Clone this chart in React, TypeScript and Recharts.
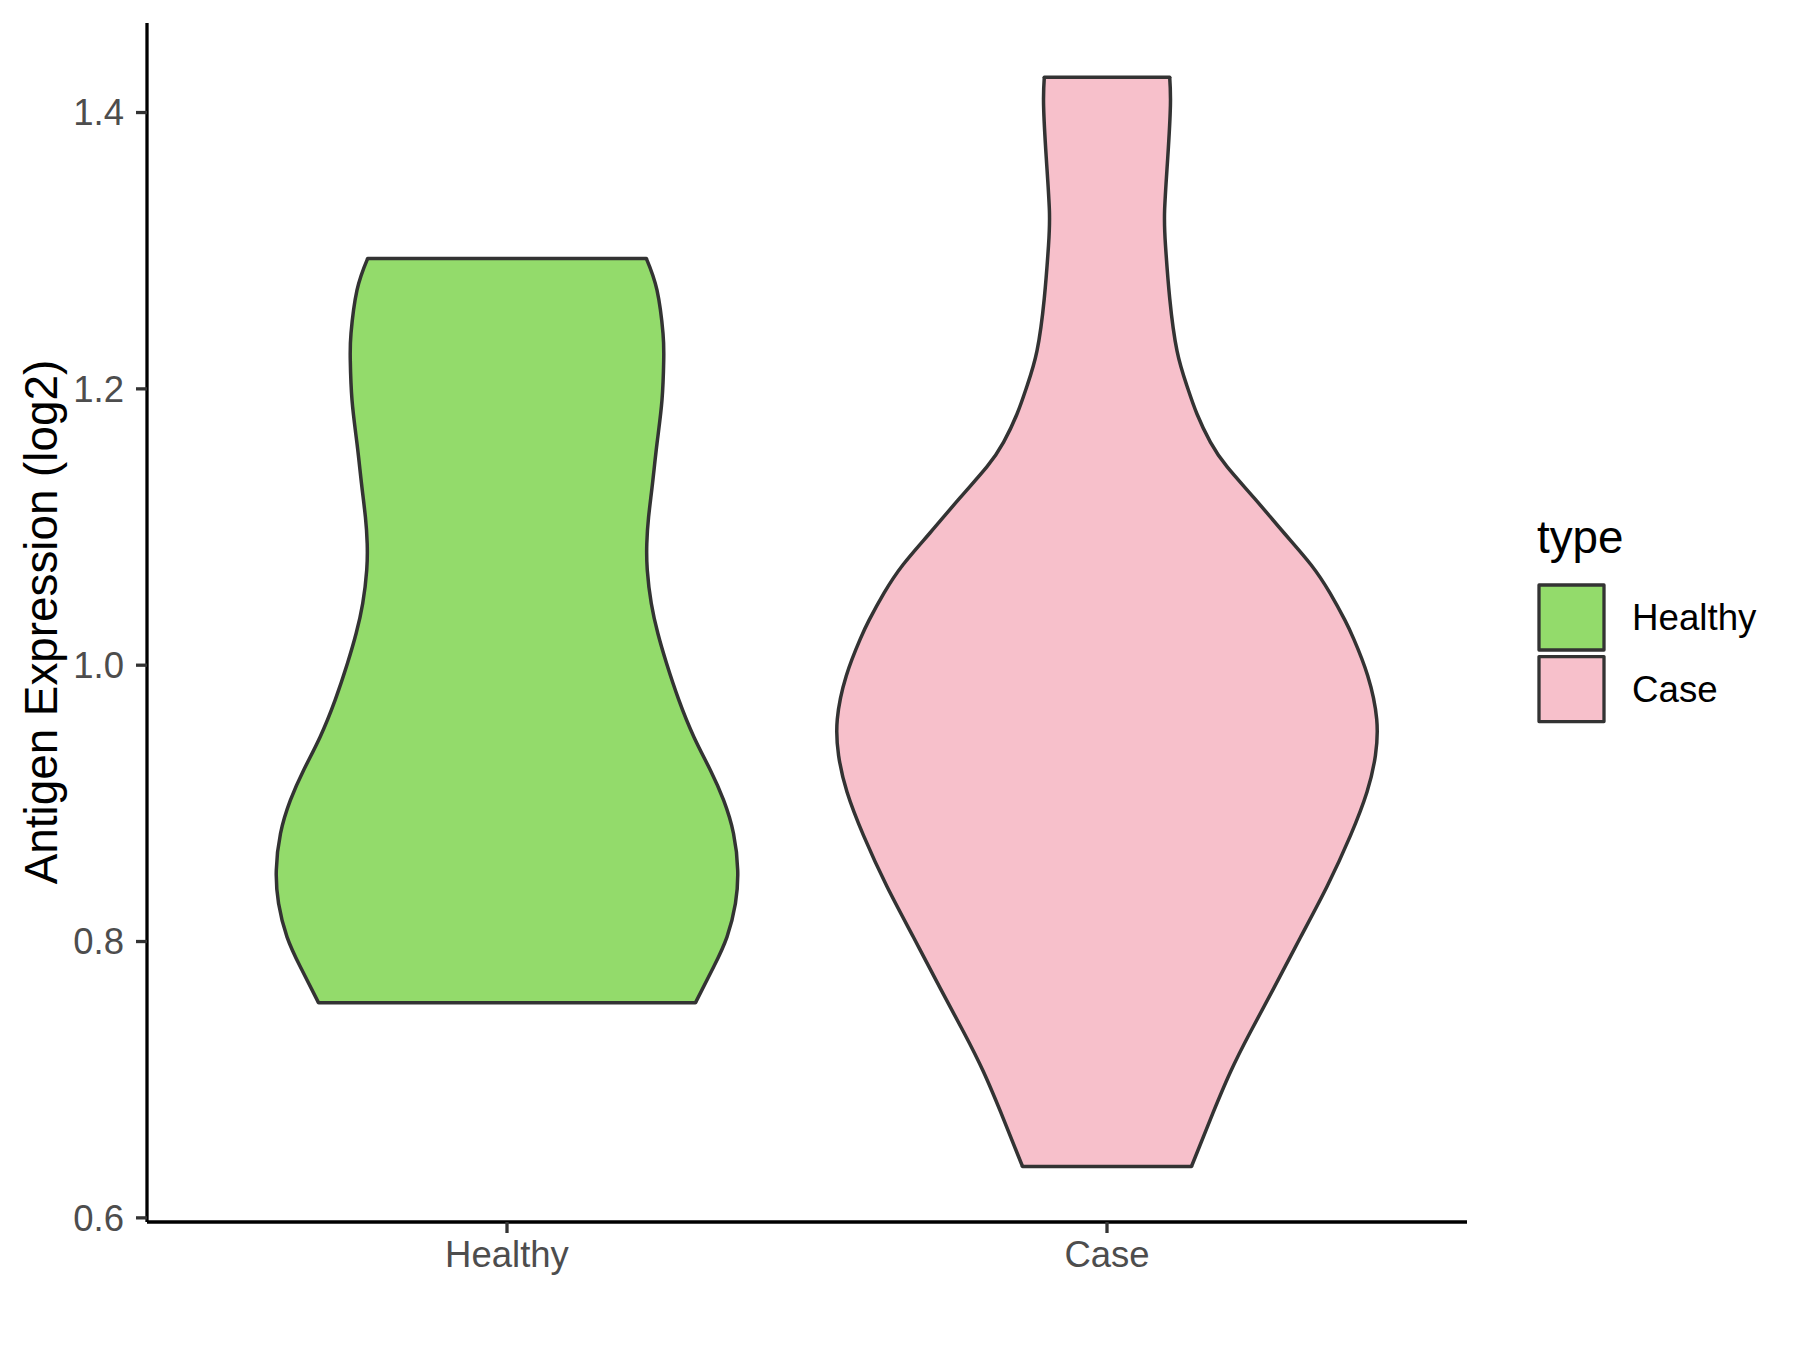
import React from 'react';
import { ComposedChart, Area, XAxis, YAxis, ReferenceLine } from 'recharts';

// ---- data ----
const categories = ['Healthy', 'Case'];
const categoryPositions = [1, 2];
const fillColors = ['#93DB6B', '#F7C0CB'];
const outlineColor = '#333333';

// Healthy violin: expression values (top to bottom) and half-widths (x-axis units)
const healthyY = [
  1.2943, 1.2714, 1.2401, 1.2207, 1.1918, 1.1604, 1.1315, 1.1073, 1.0881, 1.0688,
  1.0447, 1.0229, 1.0012, 0.9747, 0.9481, 0.924, 0.9023, 0.8782, 0.8516, 0.8275,
  0.8034, 0.7817, 0.7556,
];
const healthyHalfWidth = [
  0.2323, 0.25, 0.26, 0.2612, 0.2583, 0.25, 0.2425, 0.2360, 0.2330, 0.2338,
  0.2405, 0.2515, 0.2660, 0.2865, 0.3115, 0.339, 0.3610, 0.3775, 0.3845, 0.3807,
  0.3667, 0.3445, 0.314,
];

// Case violin
const caseY = [
  1.4255, 1.4052, 1.3671, 1.3291, 1.3037, 1.2656, 1.2275, 1.2021, 1.1818, 1.1615,
  1.1437, 1.1209, 1.0955, 1.0727, 1.0523, 1.0326, 1.0187, 0.9924, 0.9609, 0.9345,
  0.9082, 0.8766, 0.8398, 0.8029, 0.7661, 0.7345, 0.7055, 0.6713, 0.6371,
];
const caseHalfWidth = [
  0.1045, 0.1057, 0.1012, 0.0960, 0.0975, 0.1045, 0.1167, 0.1333, 0.15, 0.1723,
  0.2, 0.2455, 0.2955, 0.3400, 0.3715, 0.3965, 0.4115, 0.4345, 0.4495, 0.4473,
  0.4333, 0.4057, 0.3667, 0.3223, 0.2778, 0.239, 0.2057, 0.1723, 0.1407,
];

const yTicks = [0.6, 0.8, 1.0, 1.2, 1.4];
const yDomain = [0.597, 1.4648];
const xDomain = [0.4, 2.6];

const axisTitle = 'Antigen Expression (log2)';
const legendTitle = 'type';

// ---- build the tables Recharts needs ----
function buildViolin(center: number, ys: number[], hws: number[]) {
  return ys.map((y, i) => ({ y, range: [center - hws[i], center + hws[i]] }));
}
const violins = [
  { name: categories[0], fill: fillColors[0], data: buildViolin(categoryPositions[0], healthyY, healthyHalfWidth), ys: healthyY, hws: healthyHalfWidth, center: categoryPositions[0] },
  { name: categories[1], fill: fillColors[1], data: buildViolin(categoryPositions[1], caseY, caseHalfWidth), ys: caseY, hws: caseHalfWidth, center: categoryPositions[1] },
];

const FONT = '"Liberation Sans", Arial, Helvetica, sans-serif';
const LW = 3.3;
const VLW = 3.5;

const YTitle = () => (
  <text
    x={57}
    y={622}
    transform="rotate(-90 57 622)"
    textAnchor="middle"
    fontFamily={FONT}
    fontSize={45.8}
    fill="#000000"
  >
    {axisTitle}
  </text>
);

export default function App() {
  return (
    <div style={{ position: 'absolute', left: 0, top: 0, width: 1800, height: 1350, background: '#ffffff' }}>
      <ComposedChart
        width={1800}
        height={1350}
        layout="vertical"
        margin={{ top: 23, right: 333, bottom: 0, left: 0 }}
      >
        <XAxis
          type="number"
          domain={xDomain}
          allowDataOverflow
          ticks={categoryPositions}
          tickFormatter={(v: number) => categories[Math.round(v) - 1]}
          height={128}
          tickSize={11}
          tickMargin={8}
          axisLine={{ stroke: '#000000', strokeWidth: LW }}
          tickLine={{ stroke: outlineColor, strokeWidth: LW }}
          tick={{ fill: '#4D4D4D', fontSize: 36.5, fontFamily: FONT }}
        />
        <YAxis
          type="number"
          dataKey="y"
          domain={yDomain}
          allowDataOverflow
          reversed
          ticks={yTicks}
          tickFormatter={(v: number) => v.toFixed(1)}
          width={147}
          tickSize={11}
          tickMargin={12}
          axisLine={{ stroke: '#000000', strokeWidth: LW }}
          tickLine={{ stroke: outlineColor, strokeWidth: LW }}
          tick={{ fill: '#4D4D4D', fontSize: 36.5, fontFamily: FONT }}
          label={{ content: () => <YTitle /> }}
        />
        {violins.map((v) => (
          <Area
            key={v.name}
            name={v.name}
            data={v.data}
            dataKey="range"
            type="natural"
            fill={v.fill}
            fillOpacity={1}
            stroke={outlineColor}
            strokeWidth={VLW}
            strokeLinejoin="round"
            dot={false}
            activeDot={false}
            isAnimationActive={false}
          />
        ))}
        {violins.map((v) => {
          const n = v.ys.length;
          return [0, n - 1].map((i) => (
            <ReferenceLine
              key={`${v.name}-cap-${i}`}
              segment={[
                { x: v.center - v.hws[i], y: v.ys[i] },
                { x: v.center + v.hws[i], y: v.ys[i] },
              ]}
              stroke={outlineColor}
              strokeWidth={VLW}
              strokeLinecap="round"
              ifOverflow="visible"
            />
          ));
        })}
      </ComposedChart>
      <svg
        width={1800}
        height={1350}
        style={{ position: 'absolute', left: 0, top: 0, pointerEvents: 'none' }}
      >
        <text x={1537} y={553} fontFamily={FONT} fontSize={45.8} fill="#000000">
          {legendTitle}
        </text>
        {violins.map((v, i) => (
          <g key={v.name}>
            <rect
              x={1539}
              y={585 + i * 71.6}
              width={65}
              height={65}
              fill={v.fill}
              stroke={outlineColor}
              strokeWidth={LW}
              strokeLinejoin="round"
            />
            <text x={1632} y={630 + i * 72} fontFamily={FONT} fontSize={36.7} fill="#000000">
              {v.name}
            </text>
          </g>
        ))}
      </svg>
    </div>
  );
}
